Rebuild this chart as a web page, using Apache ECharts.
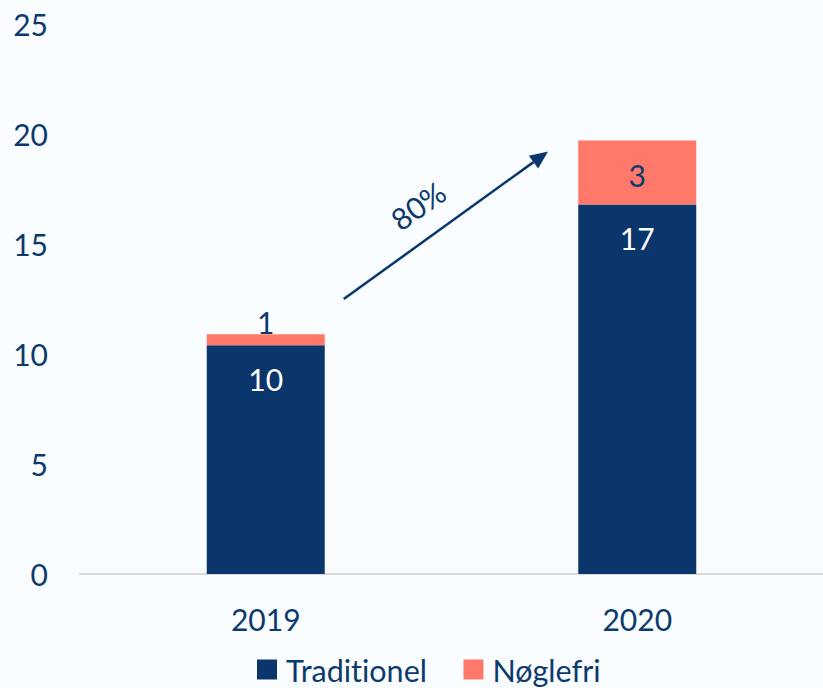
<!DOCTYPE html>
<html><head><meta charset="utf-8">
<script src="https://cdn.jsdelivr.net/npm/echarts@6/dist/echarts.min.js"></script>
<style>html,body{margin:0;padding:0;background:#f9fdff}#c{width:823px;height:688px}
svg text{font-variant-ligatures:none;font-feature-settings:"liga" 0,"clig" 0}</style>
</head><body><div id="c"></div>
<script>
const categories = ['2019', '2020'];
const traditionel = [10.4, 16.8];
const noeglefri = [0.5, 2.9];
const traditionelLabels = ['10', '17'];
const noeglefriLabels = ['1', '3'];
const yTicks = [0, 5, 10, 15, 20, 25];
const growthLabel = '80%';
// arrow annotation: [fractional category position, value]
const arrowFrom = [0.21, 12.5];
const arrowTo = [0.76, 19.2];

const navy = '#0b366b', salmon = '#ff7869', textC = '#0d3a6d';
const FF = 'Lato';
const FS = 30;
const chart = echarts.init(document.getElementById('c'), null, {renderer: 'svg'});
chart.setOption({
  backgroundColor: '#f9fdff',
  animation: false,
  textStyle: {fontFamily: FF},
  grid: {left: 80, width: 750, top: 24, bottom: 114},
  legend: {
    left: 257, top: 654, padding: 0, icon: 'rect', itemWidth: 20, itemHeight: 20, itemGap: 36,
    textStyle: {fontFamily: FF, fontSize: 30.5, color: textC, padding: [0, 0, 0, 4]},
    data: ['Traditionel', 'Nøglefri']
  },
  xAxis: {
    type: 'category', data: categories,
    axisLine: {lineStyle: {color: '#d9d9d9', width: 2}},
    axisTick: {show: false},
    axisLabel: {fontFamily: FF, fontSize: FS, color: textC, margin: 30}
  },
  yAxis: {
    type: 'value', min: yTicks[0], max: yTicks[yTicks.length - 1], interval: yTicks[1] - yTicks[0],
    splitLine: {show: false}, axisLine: {show: false}, axisTick: {show: false},
    axisLabel: {fontFamily: FF, fontSize: FS, color: textC, margin: 32}
  },
  series: [
    {
      name: 'Traditionel', type: 'bar', stack: 's', barWidth: 118,
      itemStyle: {color: navy},
      data: traditionel.map((v, i) => ({value: v, label: {formatter: traditionelLabels[i]}})),
      label: {show: true, position: 'insideTop', distance: 19, color: '#ffffff', fontFamily: FF, fontSize: FS}
    },
    {
      name: 'Nøglefri', type: 'bar', stack: 's', barWidth: 118,
      itemStyle: {color: salmon},
      data: noeglefri.map((v, i) => ({
        value: v,
        label: i === 0 ? {formatter: noeglefriLabels[i], position: 'top', distance: -3}
                       : {formatter: noeglefriLabels[i]}
      })),
      label: {show: true, position: 'insideTop', distance: 19, color: textC, fontFamily: FF, fontSize: FS}
    }
  ]
});

function px(p) {
  const a = chart.convertToPixel({xAxisIndex: 0, yAxisIndex: 0}, [0, p[1]]);
  const b = chart.convertToPixel({xAxisIndex: 0, yAxisIndex: 0}, [1, p[1]]);
  return [a[0] + (b[0] - a[0]) * p[0], a[1]];
}
const s = px(arrowFrom), e = px(arrowTo);
const ang = Math.atan2(e[1] - s[1], e[0] - s[0]);
const hl = 18, hw = 8;
const base = [e[0] - hl * Math.cos(ang), e[1] - hl * Math.sin(ang)];
const nx = -Math.sin(ang), ny = Math.cos(ang);
const mid = [(s[0] + e[0]) / 2, (s[1] + e[1]) / 2];
chart.setOption({
  graphic: [
    {type: 'line', shape: {x1: s[0], y1: s[1], x2: base[0], y2: base[1]}, style: {stroke: navy, lineWidth: 2.5}},
    {type: 'polygon', shape: {points: [[e[0], e[1]], [base[0] + nx * hw, base[1] + ny * hw], [base[0] - nx * hw, base[1] - ny * hw]]}, style: {fill: navy}},
    {type: 'text', x: mid[0] - 28, y: mid[1] - 20, rotation: -ang, originX: 0, originY: 0,
     style: {text: growthLabel, fill: textC, font: FS + 'px ' + FF, align: 'center', verticalAlign: 'middle'}}
  ]
});
</script></body></html>
